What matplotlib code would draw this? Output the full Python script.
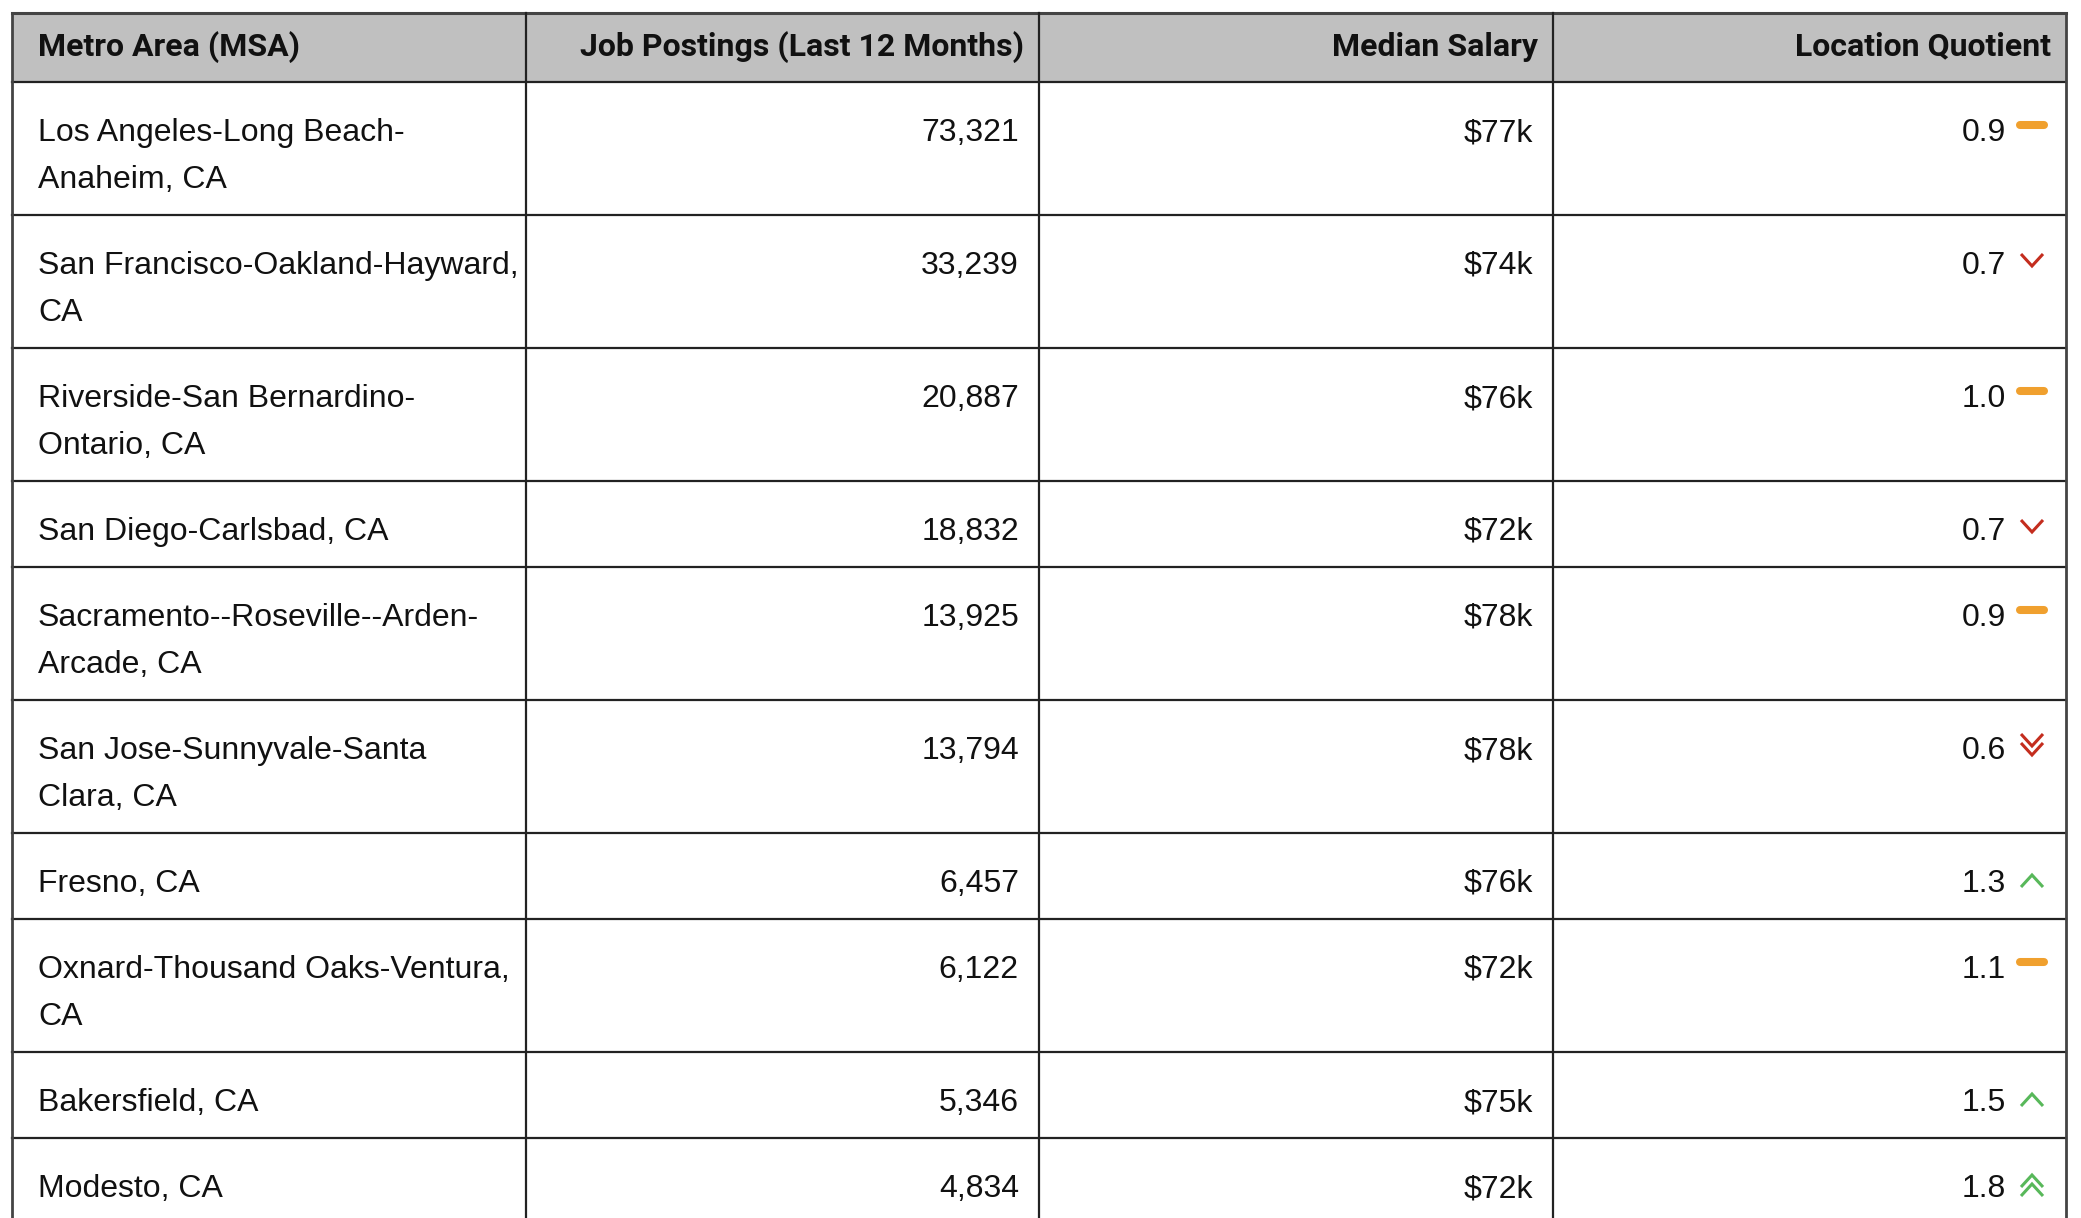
import matplotlib.pyplot as plt
from matplotlib.patches import Rectangle

# table data
headers = ["Metro Area (MSA)", "Job Postings (Last 12 Months)", "Median Salary", "Location Quotient"]
metros = [
    "Los Angeles-Long Beach-\nAnaheim, CA",
    "San Francisco-Oakland-Hayward,\nCA",
    "Riverside-San Bernardino-\nOntario, CA",
    "San Diego-Carlsbad, CA",
    "Sacramento--Roseville--Arden-\nArcade, CA",
    "San Jose-Sunnyvale-Santa\nClara, CA",
    "Fresno, CA",
    "Oxnard-Thousand Oaks-Ventura,\nCA",
    "Bakersfield, CA",
    "Modesto, CA",
]
postings = [73321, 33239, 20887, 18832, 13925, 13794, 6457, 6122, 5346, 4834]
salary_k = [77, 74, 76, 72, 78, 78, 76, 72, 75, 72]
lq = [0.9, 0.7, 1.0, 0.7, 0.9, 0.6, 1.3, 1.1, 1.5, 1.8]
trend = ["flat", "down", "flat", "down", "flat", "down2", "up", "flat", "up", "up2"]

W, H = 2081, 1218
fig = plt.figure(figsize=(W / 100, H / 100), dpi=100)
ax = fig.add_axes([0, 0, 1, 1])
ax.set_xlim(0, W)
ax.set_ylim(H, 0)
ax.axis("off")

body_font = dict(family="Liberation Sans", fontsize=23, color="#111111")
head_font = dict(family="Roboto", fontweight="bold", fontsize=23, color="#111111")

col_x = [12, 526, 1039, 1553, 2066]
top, head_h = 13, 69
line_h = 47
cap = 11  # half cap height, to put baselines

# header
ax.add_patch(Rectangle((col_x[0], top), col_x[-1] - col_x[0], head_h,
                       facecolor="#C0C0C0", edgecolor="none"))
hy = top + head_h / 2 + cap - 3
ax.text(col_x[0] + 26, hy, headers[0], ha="left", va="baseline", **head_font)
for i in range(1, 4):
    ax.text(col_x[i + 1] - 15, hy, headers[i], ha="right", va="baseline", **head_font)

lw = 1.6
ax.plot([col_x[0], col_x[-1]], [top, top], color="#444444", lw=2.2)
ax.plot([col_x[0], col_x[-1]], [top + head_h, top + head_h], color="#222222", lw=lw)

orange, red, green = "#F0A02E", "#C42D1E", "#58B85A"


def chevron(xc, yc, up, color):
    dy = -6 if up else 6
    ax.plot([xc - 11, xc, xc + 11], [yc - dy, yc + dy, yc - dy], color=color,
            lw=2.2, solid_capstyle="butt", solid_joinstyle="miter")


y = top + head_h
for name, p, s, q, t in zip(metros, postings, salary_k, lq, trend):
    n = name.count("\n") + 1
    rh = 86 + line_h * (n - 1)
    yc = y + 48
    for k, part in enumerate(name.split("\n")):
        ax.text(col_x[0] + 26, yc + k * line_h + cap, part, ha="left", va="baseline", **body_font)
    ax.text(col_x[2] - 20, yc + cap, f"{p:,}", ha="right", va="baseline", **body_font)
    ax.text(col_x[3] - 20, yc + cap, f"${s}k", ha="right", va="baseline", **body_font)
    ax.text(2006, yc + cap, f"{q:.1f}", ha="right", va="baseline", **body_font)
    ix = 2032
    if t == "flat":
        ax.plot([ix - 12, ix + 12], [yc - 5, yc - 5], color=orange, lw=5.8,
                solid_capstyle="round")
    elif t == "down":
        chevron(ix, yc - 3, False, red)
    elif t == "down2":
        chevron(ix, yc - 8, False, red)
        chevron(ix, yc + 1, False, red)
    elif t == "up":
        chevron(ix, yc, True, green)
    elif t == "up2":
        chevron(ix, yc - 5, True, green)
        chevron(ix, yc + 4, True, green)
    y += rh
    ax.plot([col_x[0], col_x[-1]], [y, y], color="#222222", lw=lw)

# vertical lines
for i, x in enumerate(col_x):
    edge = i in (0, len(col_x) - 1)
    ax.plot([x, x], [top, H], color="#444444" if edge else "#222222", lw=2.0 if edge else lw)

fig.savefig("out.png", dpi=100, facecolor="white")
